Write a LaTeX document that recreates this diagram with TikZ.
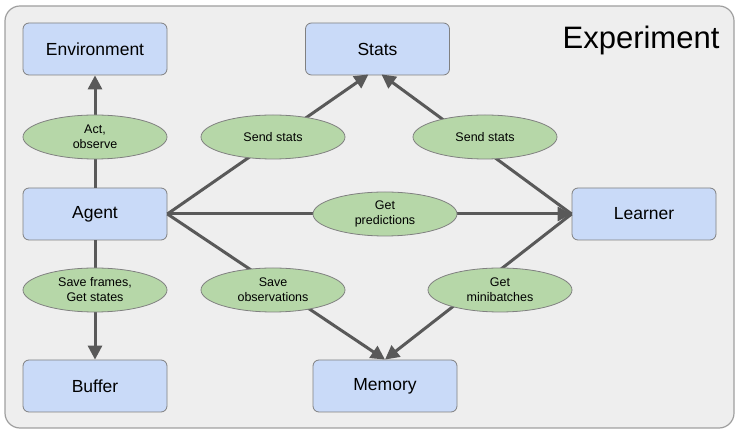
\documentclass[tikz,border=0pt]{standalone}
\usepackage{fontspec}
\setmainfont{Liberation Sans}
\usetikzlibrary{shapes.geometric,arrows.meta}
\definecolor{boxblue}{HTML}{C9DAF8}
\definecolor{ellgreen}{HTML}{B6D7A8}
\definecolor{framefill}{HTML}{EEEEEE}
\definecolor{linegray}{HTML}{595959}
\definecolor{bordergray}{HTML}{808080}
\tikzset{
  boxnode/.style={rectangle, rounded corners=6pt, minimum width=144pt, minimum height=52pt,
    fill=boxblue, draw=bordergray, line width=0.8pt, inner sep=0pt,
    font=\fontsize{17.5}{20}\selectfont},
  ellnode/.style={ellipse, minimum width=144pt, minimum height=44pt, inner sep=0pt,
    fill=ellgreen, draw=bordergray, line width=0.8pt, align=center,
    font=\fontsize{12.5}{15}\selectfont},
  conn/.style={draw=linegray, line width=3pt},
  arr/.style={conn, -{Triangle[length=14pt,width=14pt]}}
}
\begin{document}
\begin{tikzpicture}[x=1pt,y=-1pt]
\useasboundingbox (0,0) rectangle (740,435);
\draw[rounded corners=15pt, fill=framefill, draw=gray!75, line width=1.2pt] (5,6) rectangle (734,428);
\node[font=\fontsize{31}{34}\selectfont] (title) at (641,40) {Experiment};
% boxes
\node[boxnode] (env) at (95,49) {Environment};
\node[boxnode] (stats) at (377.5,49) {Stats};
\node[boxnode] (agent) at (95,214) {Agent};
\node[boxnode] (learner) at (644,214) {Learner};
\node[boxnode] (buffer) at (95,386) {Buffer};
\node[boxnode] (memory) at (385,386) {Memory};
% connectors
\draw[arr] (agent.north) -- (env.south);
\draw[arr] (agent.south) -- (buffer.north);
\draw[arr] (agent.east) -- ([xshift=-9pt,yshift=1pt]stats.south);
\draw[arr] (learner.west) -- ([xshift=4pt,yshift=1pt]stats.south);
\draw[arr] (agent.east) -- (learner.west);
\draw[arr] (agent.east) -- (memory.north);
\draw[arr] (learner.west) -- (memory.north);
% labels
\node[ellnode] (actobs) at (95,137) {Act,\\observe};
\node[ellnode] (sendl) at (273,137) {Send stats};
\node[ellnode] (sendr) at (485,137) {Send stats};
\node[ellnode] (getpred) at (385,214) {Get\\predictions};
\node[ellnode] (saveframes) at (95,290) {Save frames,\\Get states};
\node[ellnode] (saveobs) at (273,290) {Save\\observations};
\node[ellnode] (getmini) at (500,290) {Get\\minibatches};
\end{tikzpicture}
\end{document}
